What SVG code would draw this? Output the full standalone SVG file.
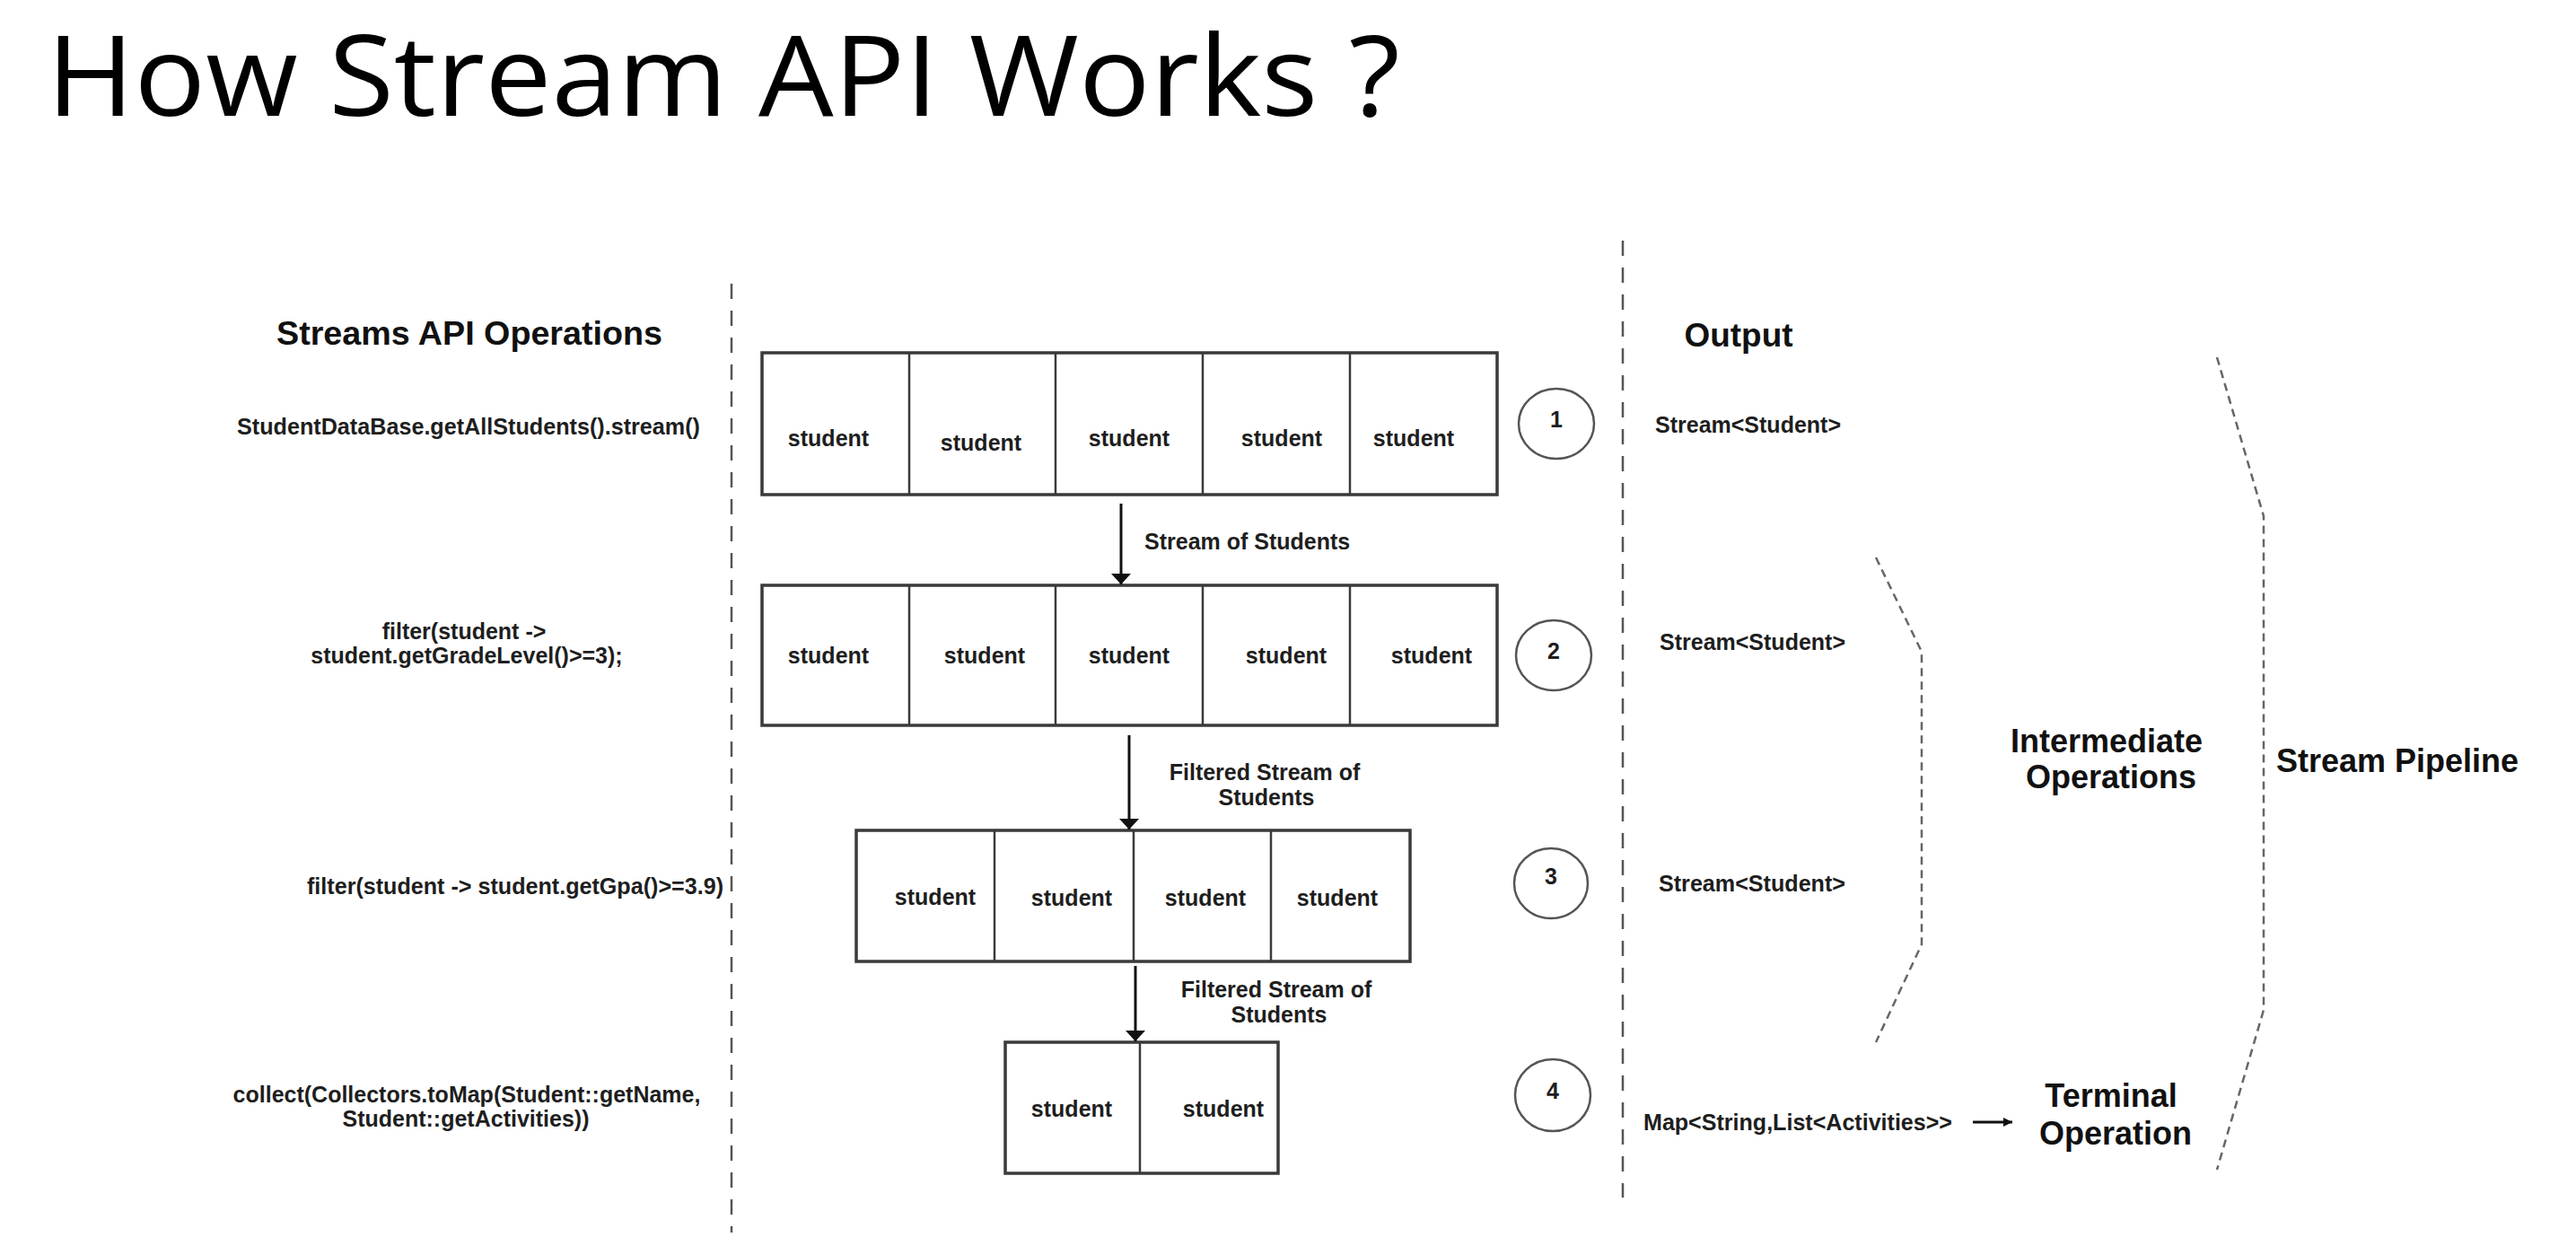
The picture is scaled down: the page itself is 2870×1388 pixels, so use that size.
<svg xmlns="http://www.w3.org/2000/svg" width="2870" height="1388" viewBox="0 0 2870 1388">
<defs>
<style>
.t{font-family:"Liberation Sans",Arial,sans-serif;font-weight:bold;font-size:25px;fill:#1e1e1e}
.big{font-family:"Liberation Sans",Arial,sans-serif;font-weight:bold;font-size:36px;fill:#111}
.c{text-anchor:middle}
.box{fill:#fff;stroke:#3a3a3a;stroke-width:3.5}
.div{stroke:#3a3a3a;stroke-width:2.5}
.step{fill:#fff;stroke:#555;stroke-width:2.5}
.sep{stroke:#555;stroke-width:2.5;stroke-dasharray:17 13;fill:none}
.brace{stroke:#666;stroke-width:2.5;stroke-dasharray:9 6;fill:none}
.arr{stroke:#111;stroke-width:3;fill:none}
</style>
<marker id="ah" markerUnits="userSpaceOnUse" viewBox="-13 -12 14 24" refX="0" refY="0" markerWidth="14" markerHeight="24" orient="auto">
<path d="M0,0 L-12,-11 L-12,11 Z" fill="#111"/>
</marker>
<marker id="ahs" markerUnits="userSpaceOnUse" viewBox="-11 -6 12 12" refX="0" refY="0" markerWidth="12" markerHeight="12" orient="auto">
<path d="M0,0 L-10,-5 L-10,5 Z" fill="#111"/>
</marker>
</defs>
<rect width="2870" height="1388" fill="#fff"/>

<g id="title">
<text x="52" y="129" font-family="'Open Sans','Noto Sans',sans-serif" font-size="124" fill="#000" textLength="1508" lengthAdjust="spacingAndGlyphs">How Stream API Works ?</text>
</g>

<g id="separators">
<line class="sep" x1="815" y1="316" x2="815" y2="1373"/>
<line class="sep" x1="1808" y1="268" x2="1808" y2="1334"/>
</g>

<g id="headers">
<text class="big c" x="523" y="384" textLength="430" lengthAdjust="spacingAndGlyphs" font-size="34">Streams API Operations</text>
<text class="big c" x="1937" y="386" textLength="121" lengthAdjust="spacingAndGlyphs" font-size="34">Output</text>
</g>

<g id="op1"><text class="t" x="264" y="484" textLength="516" lengthAdjust="spacingAndGlyphs">StudentDataBase.getAllStudents().stream()</text></g>
<g id="op2">
<text class="t c" x="517" y="712">filter(student -&gt;</text>
<text class="t c" x="520" y="739">student.getGradeLevel()&gt;=3);</text>
</g>
<g id="op3"><text class="t" x="342" y="996" textLength="464" lengthAdjust="spacingAndGlyphs">filter(student -&gt; student.getGpa()&gt;=3.9)</text></g>
<g id="op4">
<text class="t c" x="520" y="1228">collect(Collectors.toMap(Student::getName,</text>
<text class="t c" x="519" y="1255">Student::getActivities))</text>
</g>

<g id="row1">
<rect class="box" x="849" y="393" width="819" height="158"/>
<line class="div" x1="1013" y1="393" x2="1013" y2="551"/>
<line class="div" x1="1176" y1="393" x2="1176" y2="551"/>
<line class="div" x1="1340" y1="393" x2="1340" y2="551"/>
<line class="div" x1="1504" y1="393" x2="1504" y2="551"/>
<text class="t c" x="923" y="497">student</text>
<text class="t c" x="1093" y="502">student</text>
<text class="t c" x="1258" y="497">student</text>
<text class="t c" x="1428" y="497">student</text>
<text class="t c" x="1575" y="497">student</text>
</g>

<g id="row2">
<rect class="box" x="849" y="652" width="819" height="156"/>
<line class="div" x1="1013" y1="652" x2="1013" y2="808"/>
<line class="div" x1="1176" y1="652" x2="1176" y2="808"/>
<line class="div" x1="1340" y1="652" x2="1340" y2="808"/>
<line class="div" x1="1504" y1="652" x2="1504" y2="808"/>
<text class="t c" x="923" y="739">student</text>
<text class="t c" x="1097" y="739">student</text>
<text class="t c" x="1258" y="739">student</text>
<text class="t c" x="1433" y="739">student</text>
<text class="t c" x="1595" y="739">student</text>
</g>

<g id="row3">
<rect class="box" x="954" y="925" width="617" height="146"/>
<line class="div" x1="1108" y1="925" x2="1108" y2="1071"/>
<line class="div" x1="1263" y1="925" x2="1263" y2="1071"/>
<line class="div" x1="1416" y1="925" x2="1416" y2="1071"/>
<text class="t c" x="1042" y="1008">student</text>
<text class="t c" x="1194" y="1009">student</text>
<text class="t c" x="1343" y="1009">student</text>
<text class="t c" x="1490" y="1009">student</text>
</g>

<g id="row4">
<rect class="box" x="1120" y="1161" width="304" height="146"/>
<line class="div" x1="1270" y1="1161" x2="1270" y2="1307"/>
<text class="t c" x="1194" y="1244">student</text>
<text class="t c" x="1363" y="1244">student</text>
</g>

<g id="step1"><ellipse class="step" cx="1734" cy="472" rx="42" ry="39"/><text class="t c" x="1734" y="476">1</text></g>
<g id="step2"><ellipse class="step" cx="1731" cy="730" rx="42" ry="39"/><text class="t c" x="1731" y="734">2</text></g>
<g id="step3"><ellipse class="step" cx="1728" cy="984" rx="41" ry="39"/><text class="t c" x="1728" y="985">3</text></g>
<g id="step4"><ellipse class="step" cx="1730" cy="1220" rx="42" ry="40"/><text class="t c" x="1730" y="1224">4</text></g>

<g id="out1"><text class="t" x="1844" y="482" textLength="207" lengthAdjust="spacingAndGlyphs">Stream&lt;Student&gt;</text></g>
<g id="out2"><text class="t" x="1849" y="724" textLength="207" lengthAdjust="spacingAndGlyphs">Stream&lt;Student&gt;</text></g>
<g id="out3"><text class="t" x="1848" y="993" textLength="208" lengthAdjust="spacingAndGlyphs">Stream&lt;Student&gt;</text></g>
<g id="out4"><text class="t" x="1831" y="1259" textLength="344" lengthAdjust="spacingAndGlyphs">Map&lt;String,List&lt;Activities&gt;&gt;</text></g>

<g id="intermediate">
<polyline class="brace" points="2090,621 2141,726 2141,1052 2090,1161"/>
<text class="big c" x="2347" y="838">Intermediate</text>
<text class="big c" x="2352" y="878">Operations</text>
</g>

<g id="pipeline">
<polyline class="brace" points="2470,398 2522,575 2522,1125 2470,1303"/>
<text class="big c" x="2671" y="860">Stream Pipeline</text>
</g>

<g id="terminal">
<text class="big c" x="2352" y="1233">Terminal</text>
<text class="big c" x="2357" y="1275">Operation</text>
</g>

<g id="connectors">
<line class="arr" x1="1249" y1="561" x2="1249" y2="651" marker-end="url(#ah)"/>
<text class="t" x="1275" y="612">Stream of Students</text>
<line class="arr" x1="1258" y1="819" x2="1258" y2="924" marker-end="url(#ah)"/>
<text class="t c" x="1409" y="869">Filtered Stream of</text>
<text class="t c" x="1411" y="897">Students</text>
<line class="arr" x1="1265" y1="1076" x2="1265" y2="1160" marker-end="url(#ah)"/>
<text class="t c" x="1422" y="1111">Filtered Stream of</text>
<text class="t c" x="1425" y="1139">Students</text>
<line class="arr" stroke-width="2" x1="2198" y1="1250" x2="2242" y2="1250" marker-end="url(#ahs)"/>
</g>
</svg>
